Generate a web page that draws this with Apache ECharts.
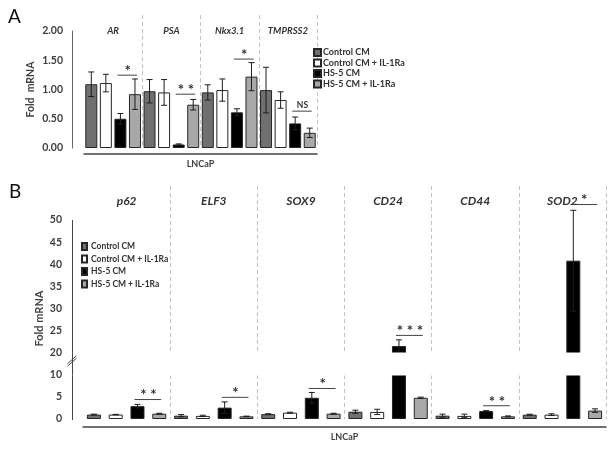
<!DOCTYPE html>
<html><head><meta charset="utf-8">
<script src="https://cdn.jsdelivr.net/npm/echarts@6/dist/echarts.min.js"></script>
<style>html,body{margin:0;padding:0;background:#fff}#c{width:612px;height:449px}</style>
</head><body><div id="c"></div>
<script>
// ---------- data ----------
const conditions = ['Control CM', 'Control CM + IL-1Ra', 'HS-5 CM', 'HS-5 CM + IL-1Ra'];
const cellLine = ['LNCaP'];

// Panel A
const genesA = ['AR', 'PSA', 'Nkx3.1', 'TMPRSS2'];
const controlA      = [1.09, 0.97, 0.95, 0.99];
const controlIlA    = [1.11, 0.95, 0.99, 0.82];
const hs5A          = [0.50, 0.06, 0.61, 0.42];
const hs5IlA        = [0.92, 0.74, 1.22, 0.26];
const controlErrA   = [0.21, 0.20, 0.13, 0.39];
const controlIlErrA = [0.15, 0.22, 0.19, 0.14];
const hs5ErrA       = [0.09, 0.01, 0.06, 0.11];
const hs5IlErrA     = [0.26, 0.09, 0.24, 0.08];
const yTicksA = [0, 0.5, 1.0, 1.5, 2.0];
// significance: [firstBar, y, lastBar, text]
const sigA = [[2, 1.245, 3, '*'], [6, 0.92, 7, '* *'], [10, 1.52, 11, '*'], [14, 0.63, 15, 'NS']];

// Panel B
const genesB = ['p62', 'ELF3', 'SOX9', 'CD24', 'CD44', 'SOD2'];
const controlB      = [1.00, 0.75, 1.10, 1.65, 0.75, 0.98];
const controlIlB    = [1.00, 0.70, 1.43, 1.60, 0.70, 0.98];
const hs5B          = [2.90, 2.57, 4.80, 21.5, 1.80, 40.8];
const hs5IlB        = [1.20, 0.60, 1.20, 4.80, 0.60, 1.90];
const controlErrB   = [0.10, 0.25, 0.10, 0.35, 0.35, 0.10];
const controlIlErrB = [0.05, 0.15, 0.10, 0.60, 0.40, 0.20];
const hs5ErrB       = [0.40, 1.30, 1.20, 1.40, 0.10, 11.4];
const hs5IlErrB     = [0.10, 0.05, 0.10, 0.15, 0.10, 0.40];
const yTicksB = [0, 5, 10, 20, 25, 30, 35, 40, 45, 50];
const yBreakB = {start: 10, end: 20};
const sigB = [[2, 4.4, 3, '* *'], [6, 4.9, 7, '*'], [10, 6.9, 11, '*'], [14, 23.9, 15, '* * *'], [18, 3.0, 19, '* *'], [22, 53.5, 23, '*']];

// ---------- build ----------
const FONT = 'Lato';
const fills = ['#707070', '#ffffff', '#000000', '#a8a8a8'];
const border = '#262626';
const valuesA = [controlA, controlIlA, hs5A, hs5IlA];
const errsA = [controlErrA, controlIlErrA, hs5ErrA, hs5IlErrA];
const valuesB = [controlB, controlIlB, hs5B, hs5IlB];
const errsB = [controlErrB, controlIlErrB, hs5ErrB, hs5IlErrB];

function slots(genes) { const s = []; genes.forEach((g) => conditions.forEach((c, ci) => s.push(g + '|' + ci))); return s; }
const catsA = slots(genesA), catsB = slots(genesB);

function barSeries(values, genes, xi, yi, bw) {
  return conditions.map((name, ci) => ({
    name, type: 'bar', xAxisIndex: xi, yAxisIndex: yi, barWidth: bw, barGap: '-100%',
    itemStyle: {color: fills[ci], borderColor: border, borderWidth: 1},
    emphasis: {disabled: true}, silent: true, z: 2,
    data: genes.flatMap((g, gi) => conditions.map((c, cj) => cj === ci ? values[ci][gi] : '-'))
  }));
}
function errData(values, errs, genes) {
  const d = [];
  genes.forEach((g, gi) => conditions.forEach((c, ci) => d.push([gi * 4 + ci, values[ci][gi], errs[ci][gi]])));
  return d;
}
// values above the axis max are extrapolated from the top segment of the axis scale
function coordOf(api, x, v, vmax, step) {
  if (vmax == null || v <= vmax) return api.coord([x, v]);
  const a = api.coord([x, vmax]), b = api.coord([x, vmax - step]);
  return [a[0], a[1] + (a[1] - b[1]) * (v - vmax) / step];
}
function errRenderFor(vmax, step) {
  return function (params, api) {
    const x = api.value(0), v = api.value(1), e = api.value(2);
    const t = coordOf(api, x, v + e, vmax, step), b = coordOf(api, x, v - e, vmax, step);
    const st = {stroke: '#1e1e1e', lineWidth: 1};
    const cap = 3;
    return {type: 'group', children: [
      {type: 'line', shape: {x1: t[0], y1: t[1], x2: b[0], y2: b[1]}, style: st},
      {type: 'line', shape: {x1: t[0] - cap, y1: t[1], x2: t[0] + cap, y2: t[1]}, style: st},
      {type: 'line', shape: {x1: b[0] - cap, y1: b[1], x2: b[0] + cap, y2: b[1]}, style: st}
    ]};
  };
}
function sigRenderFor(arr, fs, vmax, step) {
  return function (params, api) {
    const a = api.value(0), y = api.value(1), b = api.value(2);
    const p1 = coordOf(api, a, y, vmax, step), p2 = coordOf(api, b, y, vmax, step);
    const txt = arr[params.dataIndex][3];
    const isNS = txt === 'NS';
    return {type: 'group', children: [
      {type: 'line', shape: {x1: p1[0] - 3, y1: p1[1], x2: p2[0] + 2, y2: p1[1]}, style: {stroke: '#444', lineWidth: 1}},
      {type: 'text', style: {text: txt, x: (p1[0] + p2[0]) / 2, y: p1[1] - (isNS ? 6 : 4), align: 'center', verticalAlign: 'middle',
        font: 'bold ' + (isNS ? 8.5 : fs) + 'px ' + FONT, fill: '#333'}}
    ]};
  };
}
// axis break marker "//" on the y axis between the break bounds
function breakMarkRender(params, api) {
  const p1 = api.coord([0, api.value(1)]), p2 = api.coord([0, api.value(2)]);
  const x = Math.round(params.coordSys.x - 11) + 0.5;
  const mid = (p1[1] + p2[1]) / 2 - 3;
  const st = {stroke: '#444', lineWidth: 1};
  return {type: 'group', children: [
    {type: 'line', shape: {x1: x, y1: p1[1], x2: x, y2: p2[1]}, style: st},
    {type: 'line', shape: {x1: x - 5, y1: mid + 3, x2: x + 4, y2: mid - 5}, style: st},
    {type: 'line', shape: {x1: x - 5, y1: mid + 5.5, x2: x + 4, y2: mid - 2.5}, style: st}
  ]};
}

const labelStyle = {fontFamily: FONT, fontWeight: 'bold', color: '#404040'};

const option = {
  backgroundColor: '#fff',
  animation: false,
  textStyle: {fontFamily: FONT},
  title: [
    {text: 'A', left: 8, top: 7, padding: 0, textStyle: {fontFamily: FONT, fontSize: 19, fontWeight: 'normal', color: '#111'}},
    {text: 'B', left: 9, top: 182, padding: 0, textStyle: {fontFamily: FONT, fontSize: 19, fontWeight: 'normal', color: '#111'}}
  ],
  legend: [
    {left: 313, top: 48, orient: 'vertical', icon: 'rect', itemWidth: 7, itemHeight: 7, itemGap: 1.5, padding: 0,
      data: conditions, selectedMode: false,
      textStyle: {fontFamily: FONT, fontWeight: 'bold', fontSize: 9, color: '#333', padding: [0, 0, 0, -3]}},
    {left: 81, top: 242, orient: 'vertical', icon: 'rect', itemWidth: 5, itemHeight: 7, itemGap: 3.5, padding: 0,
      data: conditions, selectedMode: false,
      textStyle: {fontFamily: FONT, fontWeight: 'bold', fontSize: 8.5, color: '#333', padding: [0, 0, 0, -1]}}
  ],
  grid: [
    {left: 84, width: 233, top: 31, height: 117},
    {left: 84, width: 233, top: 15, height: 133},
    {left: 83, width: 523, top: 220, height: 199},
    {left: 83, width: 523, top: 186, height: 233}
  ],
  xAxis: [
    {gridIndex: 0, type: 'category', data: catsA, show: false},
    {gridIndex: 0, type: 'category', data: cellLine, position: 'bottom', offset: 6,
      axisLine: {show: true, lineStyle: {color: '#444', width: 1.5}}, axisTick: {show: false},
      axisLabel: Object.assign({fontSize: 9, margin: 6}, labelStyle)},
    {gridIndex: 1, type: 'category', data: genesA, position: 'top', z: 1,
      axisLine: {show: false}, axisTick: {show: false},
      axisLabel: {inside: true, margin: 11, fontFamily: FONT, fontWeight: 'bold', fontStyle: 'italic', fontSize: 9.5, color: '#333'},
      splitLine: {show: true, interval: (i) => i > 0, lineStyle: {color: '#c4c4c4', type: [4, 3], width: 1}}},
    {gridIndex: 2, type: 'category', data: catsB, show: false},
    {gridIndex: 2, type: 'category', data: cellLine, position: 'bottom', offset: 8,
      axisLine: {show: true, lineStyle: {color: '#444', width: 1.5}}, axisTick: {show: false},
      axisLabel: Object.assign({fontSize: 9, margin: 6}, labelStyle)},
    {gridIndex: 3, type: 'category', data: genesB, position: 'top', z: 5,
      axisLine: {show: false}, axisTick: {show: false},
      axisLabel: {inside: true, margin: 9, fontFamily: FONT, fontWeight: 'bold', fontStyle: 'italic', fontSize: 12, color: '#333'},
      splitLine: {show: true, interval: (i) => i > 0, lineStyle: {color: '#c4c4c4', type: [4, 3], width: 1}}}
  ],
  yAxis: [
    {gridIndex: 0, type: 'value', min: yTicksA[0], max: yTicksA[yTicksA.length - 1], interval: yTicksA[1] - yTicksA[0], offset: 12,
      axisLine: {show: true, lineStyle: {color: '#666', width: 1}}, axisTick: {show: false}, splitLine: {show: false},
      axisLabel: Object.assign({fontSize: 10.5, margin: 9, formatter: (v) => v.toFixed(2)}, labelStyle),
      name: 'Fold  mRNA', nameLocation: 'middle', nameGap: 36, nameMoveOverlap: false, nameTextStyle: Object.assign({fontSize: 10.5}, labelStyle)},
    {gridIndex: 1, type: 'value', show: false, min: 0, max: 1},
    {gridIndex: 2, type: 'value', min: yTicksB[0], max: yTicksB[yTicksB.length - 1], interval: yTicksB[1] - yTicksB[0], offset: 11,
      breaks: [{start: yBreakB.start, end: yBreakB.end, gap: 5}],
      breakArea: {show: true, itemStyle: {color: '#fff', borderColor: '#fff', borderWidth: 0, opacity: 1}, zigzagAmplitude: 0, expandOnClick: false},
      axisLine: {show: true, lineStyle: {color: '#444', width: 1}}, axisTick: {show: false}, splitLine: {show: false},
      axisLabel: Object.assign({fontSize: 10.5, margin: 10}, labelStyle),
      name: 'Fold mRNA', nameLocation: 'middle', nameGap: 27, nameMoveOverlap: false, nameTextStyle: Object.assign({fontSize: 11, padding: [0, 0, 0, 2]}, labelStyle)},
    {gridIndex: 3, type: 'value', show: false, min: 0, max: 1}
  ],
  series: [
    ...barSeries(valuesA, genesA, 0, 0, 12),
    {type: 'custom', xAxisIndex: 0, yAxisIndex: 0, renderItem: errRenderFor(null), data: errData(valuesA, errsA, genesA), z: 3, silent: true},
    {type: 'custom', xAxisIndex: 0, yAxisIndex: 0, renderItem: sigRenderFor(sigA, 15, null), data: sigA.map(s => [s[0], s[1], s[2]]), z: 3, silent: true},
    ...barSeries(valuesB, genesB, 3, 2, 14),
    {type: 'custom', xAxisIndex: 3, yAxisIndex: 2, clip: false, renderItem: errRenderFor(50, 5), data: errData(valuesB, errsB, genesB), z: 3, silent: true},
    {type: 'custom', xAxisIndex: 3, yAxisIndex: 2, clip: false, renderItem: sigRenderFor(sigB, 15, 50, 5), data: sigB.map(s => [s[0], s[1], s[2]]), z: 3, silent: true},
    {type: 'custom', xAxisIndex: 3, yAxisIndex: 2, clip: false, renderItem: breakMarkRender, data: [[0, yBreakB.start, yBreakB.end]], z: 6, silent: true}
  ]
};
const chart = echarts.init(document.getElementById('c'), null, {renderer: 'canvas'});
chart.setOption(option);
</script></body></html>
